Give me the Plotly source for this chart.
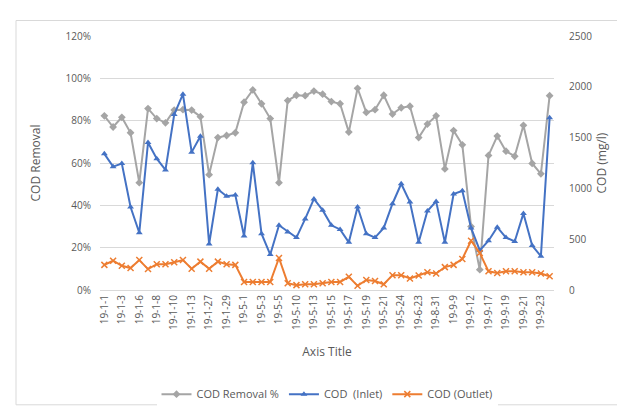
import plotly.graph_objects as go

categories = [
    "19-1-1", "19-1-2", "19-1-3", "19-1-4", "19-1-6", "19-1-7", "19-1-8", "19-1-9",
    "19-1-10", "19-1-11", "19-1-13", "19-1-14", "19-1-27", "19-1-28", "19-1-29", "19-1-30",
    "19-5-1", "19-5-2", "19-5-3", "19-5-4", "19-5-5", "19-5-6", "19-5-10", "19-5-11",
    "19-5-13", "19-5-14", "19-5-15", "19-5-16", "19-5-17", "19-5-18", "19-5-19", "19-5-20",
    "19-5-21", "19-5-22", "19-5-24", "19-5-25", "19-6-23", "19-6-24", "19-8-31", "19-9-1",
    "19-9-9", "19-9-10", "19-9-12", "19-9-13", "19-9-17", "19-9-18", "19-9-19", "19-9-20",
    "19-9-21", "19-9-22", "19-9-23", "19-9-24",
]
tick_labels = categories[::2]

removal_pct = [
    0.823, 0.77, 0.816, 0.743, 0.507, 0.857, 0.81, 0.79, 0.85, 0.852,
    0.85, 0.819, 0.545, 0.72, 0.73, 0.743, 0.887, 0.945, 0.88, 0.81,
    0.507, 0.895, 0.92, 0.918, 0.94, 0.925, 0.89, 0.88, 0.746, 0.953,
    0.839, 0.852, 0.92, 0.831, 0.861, 0.868, 0.72, 0.784, 0.823, 0.572,
    0.753, 0.686, 0.30, 0.096, 0.636, 0.727, 0.656, 0.632, 0.778, 0.598,
    0.549, 0.918,
]
cod_inlet = [
    1340, 1214, 1245, 817, 564, 1452, 1293, 1182, 1727, 1927,
    1357, 1514, 453, 991, 922, 934, 532, 1252, 554, 349,
    637, 572, 516, 700, 896, 786, 637, 596, 469, 817,
    554, 516, 611, 849, 1046, 865, 469, 777, 872, 469,
    944, 976, 611, 390, 485, 618, 516, 478, 754, 437,
    333, 1695,
]
cod_outlet = [
    247, 288, 238, 216, 295, 206, 254, 254, 273, 295,
    209, 279, 209, 279, 254, 247, 79, 79, 79, 79,
    315, 67, 48, 57, 57, 67, 79, 79, 130, 41,
    98, 89, 57, 146, 146, 114, 143, 174, 162, 225,
    247, 306, 485, 364, 184, 168, 184, 184, 174, 174,
    162, 136,
]

font_family = "Open Sans, Liberation Sans, sans-serif"
text_color = "#595959"

fig = go.Figure()
fig.add_trace(go.Scatter(
    x=categories, y=removal_pct, name="COD Removal %", mode="lines+markers",
    line=dict(color="#a5a5a5", width=2),
    marker=dict(symbol="diamond", size=6, color="#a5a5a5"),
    yaxis="y",
))
fig.add_trace(go.Scatter(
    x=categories, y=cod_inlet, name="COD  (Inlet)", mode="lines+markers",
    line=dict(color="#4472c4", width=2),
    marker=dict(symbol="triangle-up", size=6, color="#4472c4"),
    yaxis="y2",
))
fig.add_trace(go.Scatter(
    x=categories, y=cod_outlet, name="COD (Outlet)", mode="lines+markers",
    line=dict(color="#ed7d31", width=2),
    marker=dict(symbol="x-thin-open", size=6, color="#ed7d31",
                line=dict(color="#ed7d31", width=1.5)),
    yaxis="y2",
))

fig.update_layout(
    width=625, height=412,
    margin=dict(l=92, r=79, t=28, b=121),
    paper_bgcolor="white", plot_bgcolor="white",
    font=dict(family=font_family, size=10, color=text_color),
    showlegend=True,
    legend=dict(orientation="h", x=0.5, xanchor="center", y=-0.41, yanchor="middle",
                font=dict(size=11, color=text_color), itemwidth=30),
    xaxis=dict(
        type="category", tickmode="array", tickvals=tick_labels, ticktext=tick_labels,
        tickangle=-90, showgrid=False, showline=True, linecolor="#d9d9d9", linewidth=1,
        ticks="", tickfont=dict(size=10, color=text_color),
        title=dict(text="Axis Title", font=dict(size=12, color=text_color), standoff=18),
        range=[-0.5, len(categories) - 0.5],
    ),
    yaxis=dict(
        range=[0, 1.2], dtick=0.2, tickformat=".0%", showgrid=True, gridcolor="#d9d9d9",
        gridwidth=1, zeroline=False, showline=False, ticks="",
        ticklabelstandoff=8, tickfont=dict(size=10, color=text_color),
        title=dict(text="COD Removal", font=dict(size=12, color=text_color), standoff=22),
    ),
    yaxis2=dict(
        range=[0, 2500], dtick=500, overlaying="y", side="right", showgrid=False,
        zeroline=False, showline=False, ticks="", ticklabelstandoff=14,
        tickfont=dict(size=10, color=text_color),
        title=dict(text="COD (mg/l)", font=dict(size=12, color=text_color), standoff=6),
    ),
    shapes=[dict(type="rect", xref="paper", yref="paper",
                 x0=-0.185, x1=1.165, y0=-0.452, y1=1.061,
                 line=dict(color="#d9d9d9", width=1), fillcolor="rgba(0,0,0,0)",
                 layer="below")],
)

fig.write_html("out.html")
